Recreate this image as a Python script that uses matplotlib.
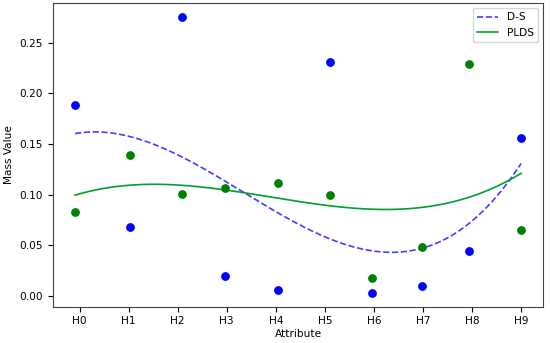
import matplotlib.pyplot as plt
import numpy as np

attributes = ["H0", "H1", "H2", "H3", "H4", "H5", "H6", "H7", "H8", "H9"]
x_pos = [-0.09, 1.02, 2.08, 2.96, 4.04, 5.10, 5.96, 6.98, 7.94, 9.00]
ds_mass = [0.188, 0.0675, 0.2757, 0.0198, 0.0059, 0.2306, 0.003, 0.0099, 0.0441, 0.1558]
plds_mass = [0.0823, 0.1387, 0.1005, 0.1064, 0.1113, 0.0995, 0.0178, 0.0484, 0.2289, 0.0652]

plt.rcParams["font.size"] = 7.6

fig = plt.figure(figsize=(5.5, 3.43), dpi=100)
ax = fig.add_axes([0.096, 0.106, 0.892, 0.886])

ax.scatter(x_pos, ds_mass, color="blue", s=28, zorder=3)
ax.scatter(x_pos, plds_mass, color="green", s=28, zorder=3)

# cubic trend through each series
xs = np.linspace(min(x_pos), max(x_pos), 200)
ds_fit = np.polyval(np.polyfit(x_pos, ds_mass, 3), xs)
plds_fit = np.polyval(np.polyfit(x_pos, plds_mass, 3), xs)
ax.plot(xs, ds_fit, "--", color="blue", alpha=0.75, lw=1.2, label="D-S")
ax.plot(xs, plds_fit, "-", color="#00a030", lw=1.2, label="PLDS")

ax.set_xticks(range(len(attributes)))
ax.set_xticklabels(attributes)
ax.set_xlabel("Attribute", labelpad=2)
ax.set_ylabel("Mass Value")
ax.legend(loc="upper right")

for s in ax.spines.values():
    s.set_color("#444444")

plt.savefig("out.png", dpi=100)
